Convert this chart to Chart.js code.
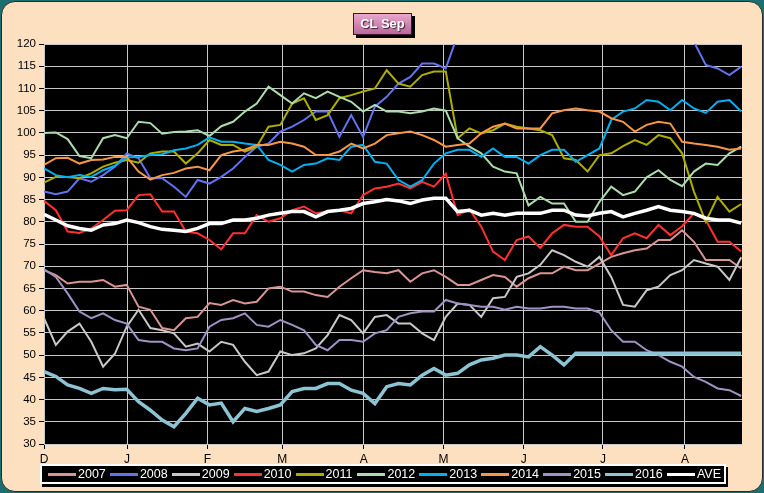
<!DOCTYPE html>
<html lang="en">
<head>
<meta charset="UTF-8">
<title>CL Sep</title>
<script src="https://cdn.jsdelivr.net/npm/chart.js"></script>
<style>
  body { margin: 0; background: #1d6f6f; }
  #wrap { position: relative; width: 764px; height: 493px; }
  #panel { position: absolute; left: 1px; top: 1px; width: 760px; height: 489px;
           background: #fde0c0; border: 1px solid #2a2a2a; border-radius: 14px; }
  #chart { position: absolute; left: 0; top: 0; }
  #title { position: absolute; left: 353px; top: 13px; width: 57px; height: 20px;
           background: linear-gradient(180deg, #e8a8cc 0%, #d088b4 50%, #b86a9a 100%);
           border: 1px solid #3a1a2a; box-shadow: 3px 3px 0 #000;
           color: #fff; font: bold 13px "Liberation Sans", Arial, sans-serif;
           text-align: center; line-height: 20px; text-shadow: 1px 1px 1px #402030; }
  #legend { position: absolute; left: 40px; top: 464px; width: 686px; height: 20px;
            background: #000; border: 2px solid #fff; box-shadow: 2px 3px 0 #000;
            display: flex; align-items: center; padding-left: 6px; box-sizing: border-box; }
  .item { width: 61.9px; flex: none; display: flex; align-items: center;
          color: #fff; font: 12.5px "Liberation Sans", Arial, sans-serif; }
  .bar { width: 28px; height: 3px; margin-right: 2px; }
</style>
</head>
<body>
<div id="wrap">
  <div id="panel"></div>
  <canvas id="chart" width="764" height="493"></canvas>
  <div id="title">CL Sep</div>
  <div id="legend"></div>
</div>
<script>
// trading-day index, one point every 3 days from 1 Dec
const xStep = 3;
const monthTicks = [0, 21.1, 41.5, 60.5, 81.2, 101.4, 121.8, 141.9, 162.7];
const monthLabels = ['D', 'J', 'F', 'M', 'A', 'M', 'J', 'J', 'A'];

const years = ['2007', '2008', '2009', '2010', '2011', '2012', '2013', '2014', '2015', '2016', 'AVE'];
const colors = ['#d99494', '#6272f0', '#c8c8c8', '#ff3030', '#adad00', '#acdcac', '#00b0f0', '#f79646', '#a092c2', '#8cc4d4', '#ffffff'];
const widths = [2, 2, 2, 2, 2, 2, 2, 2, 2, 3.5, 3.5];

const y2007 = [69.1, 68, 66.1, 66.5, 66.5, 66.9, 65.4, 65.8, 60.9, 60.2, 56.1, 55.6, 58.3, 58.6, 61.7, 61.3,
  62.4, 61.6, 62, 65, 65.4, 64.3, 64.3, 63.5, 63.1, 65.4, 67.3, 69.1, 68.7, 68.4, 69.1,
  66.5, 68.4, 69.1, 67.6, 65.8, 65.8, 66.9, 68, 67.6, 65.4, 67.3, 68.4, 68.4, 69.9, 69.1,
  69.1, 70.6, 72.1, 72.9, 73.6, 74, 75.9, 75.9, 78.1, 75.5, 71.4, 71.4, 71.4, 69.5];
const y2008 = [86.8, 86.2, 86.8, 89.8, 89, 90.5, 92.4, 95.4, 94.3, 89.8, 89.8, 87.9, 85.6, 89.4, 88.6, 90.1,
  92, 94.6, 96.9, 97.6, 100.3, 101.4, 102.9, 104.8, 104.8, 99.1, 104, 99.1, 105.9, 108.1, 111.1,
  112.6, 115.6, 115.6, 114.5, 122, 125, 128, 127, 130, 133, 135, 134, 138, 140, 142,
  144, 140, 138, 133, 128, 127, 124, 126, 123, 120.5, 115.3, 114.5, 113, 114.9];
const y2009 = [58.3, 52.3, 55.3, 57.1, 53, 47.4, 50.3, 56.4, 60.2, 56.1, 55.6, 54.9, 51.9, 52.6, 50.8, 53,
  52.3, 48.5, 45.5, 46.3, 50.8, 50, 50.4, 51.5, 54.5, 59, 57.9, 54.9, 58.6, 59, 57.1,
  57.1, 54.9, 53.4, 58.6, 61.6, 61.3, 58.6, 62.8, 63.1, 67.6, 68.4, 70.3, 73.6, 72.5, 71,
  69.9, 72.1, 67.6, 61.3, 60.9, 64.6, 65.4, 68, 69.1, 71.4, 70.6, 69.9, 66.9, 72];
const y2010 = [84.7, 82.6, 77.8, 77.5, 78.5, 80.4, 82.5, 82.6, 86, 86.2, 82.3, 82.3, 77.8, 77.4, 75.9, 73.8,
  77.4, 77.4, 81.5, 80, 80.8, 82.6, 83.4, 81.9, 82.3, 82.6, 81.9, 86, 87.5, 87.9, 88.6,
  87.5, 89, 87.9, 90.8, 81.5, 82.8, 78.9, 73.3, 71.4, 75.9, 76.7, 74.1, 77.4, 79.3, 78.9,
  78.9, 76.7, 72.5, 76.3, 77.4, 76.3, 79.3, 77, 79, 81.9, 80.4, 75.5, 75.5, 73.3];
const y2011 = [88.8, 90.1, 90.1, 89.8, 90.9, 92.4, 93.3, 93.9, 93.3, 95.4, 95.8, 95.8, 93.1, 95.4, 98.4, 97.3,
  97.3, 95.8, 96.9, 101.4, 101.8, 106.6, 107.8, 102.9, 104, 107.8, 108.5, 109.3, 110, 114.1, 111.1,
  110.4, 113, 113.8, 113.8, 98.8, 101, 99.9, 100.6, 102.1, 101.4, 101, 100.6, 99.5, 94.3, 93.9,
  91.3, 95, 95.4, 97, 98.4, 97.3, 99.5, 98.8, 95.4, 86.8, 80, 85.6, 82.3, 84];
const y2012 = [100, 100.1, 98.6, 94.8, 94.3, 98.8, 99.5, 98.8, 102.5, 102.2, 99.8, 100.2, 100.3, 100.6, 99.3, 101.5,
  102.5, 104.8, 106.6, 110.4, 108.5, 106.6, 108.9, 107.8, 109.3, 108.1, 107, 104.8, 106.3, 104.8, 104.8,
  104.4, 104.8, 105.5, 105, 98.8, 96.9, 95.4, 92.4, 91.3, 90.9, 83.7, 85.6, 84.1, 84.1, 80,
  80, 84.5, 87.9, 86, 86.8, 90, 91.6, 89.4, 88, 91.3, 93.1, 92.8, 95.4, 96.9];
const y2013 = [92, 90.5, 90, 90.5, 90.1, 91.6, 92.6, 94.5, 94.6, 95, 95.2, 96.1, 96.5, 97.3, 99, 98,
  98, 97.6, 97.3, 93.9, 92.8, 91.3, 92.8, 93.1, 94.3, 93.9, 96.9, 97.3, 93.5, 93.1, 89.4,
  87.9, 89.4, 93.1, 95.4, 96.2, 96.2, 94.6, 96.5, 94.6, 94.6, 93.1, 95, 96.2, 96.2, 93.5,
  95, 96.5, 102.9, 104.8, 105.5, 107.4, 107, 105.1, 107.4, 105.5, 104.5, 107, 107.4, 104.8];
const y2014 = [92.8, 94.3, 94.4, 93.1, 93.9, 94, 94.6, 94.6, 91.3, 89.5, 90.5, 91, 92, 92.4, 91.6, 95,
  95.8, 96.2, 97.3, 97.3, 98, 97.6, 96.9, 95, 95, 95.8, 97.6, 96.5, 97.6, 99.5, 99.9,
  100.3, 99.5, 98.4, 96.9, 97.3, 97.6, 99.9, 101.4, 102.1, 101, 101, 101, 104.4, 105.1, 105.5,
  105.1, 104.8, 103.3, 102.5, 100.3, 101.8, 102.5, 102.1, 98, 97.6, 97.3, 96.9, 96.2, 96.5];
const y2015 = [69.3, 67.6, 63.9, 59.8, 58.3, 59.4, 57.9, 57.1, 53.4, 53, 53, 51.5, 51.1, 51.5, 56.4, 57.9,
  58.3, 59.4, 56.8, 56.4, 57.9, 56.8, 55.6, 52.3, 51.1, 53.4, 53.4, 53, 54.9, 55.6, 58.6,
  59.4, 59.8, 59.8, 62.4, 61.6, 61.3, 60.9, 60.9, 60.2, 60.9, 60.5, 60.5, 60.9, 60.9, 60.5,
  60.5, 59.6, 55.6, 53, 53, 51.1, 50, 48.5, 47.4, 45.1, 44, 42.5, 42.1, 40.8];
const y2016 = [46.3, 45.2, 43.3, 42.5, 41.4, 42.5, 42.2, 42.3, 39.5, 37.6, 35.4, 33.9, 36.9, 40.3, 38.8, 39.2,
  35, 38, 37.3, 38, 38.8, 41.8, 42.5, 42.5, 43.6, 43.6, 42.1, 41.4, 39.1, 42.9, 43.6,
  43.3, 45.5, 47, 45.5, 45.9, 47.8, 48.9, 49.3, 50, 50, 49.6, 51.9, 50, 47.8, 50.4,
  50.4, 50.4, 50.4, 50.4, 50.4, 50.4, 50.4, 50.4, 50.4, 50.4, 50.4, 50.4, 50.4, 50.4];
const yAve = [81.7, 80.4, 79.1, 78.5, 78.1, 79.3, 79.6, 80.4, 79.8, 78.9, 78.3, 78.1, 77.8, 78.5, 79.6, 79.6,
  80.4, 80.4, 80.8, 81.5, 81.9, 82.3, 82.3, 81.1, 82.3, 82.6, 83, 84.1, 84.5, 85, 84.7,
  84.1, 84.9, 85.3, 85.3, 82.3, 82.6, 81.5, 81.9, 81.5, 81.9, 81.9, 81.9, 82.6, 82.6, 81.5,
  81.3, 81.9, 82.3, 81.1, 81.9, 82.6, 83.4, 82.6, 82.3, 81.9, 80.8, 80.4, 80.4, 79.7];

const series = [y2007, y2008, y2009, y2010, y2011, y2012, y2013, y2014, y2015, y2016, yAve];

// black plot background
const plotBg = {
  id: 'plotBg',
  beforeDraw(chart) {
    const a = chart.chartArea, c = chart.ctx;
    c.save();
    c.fillStyle = '#000';
    c.fillRect(a.left, a.top, a.right - a.left, a.bottom - a.top);
    c.restore();
  }
};

const datasets = series.map((vals, k) => ({
  label: years[k],
  data: vals.map((v, i) => ({ x: i * xStep, y: v })),
  borderColor: colors[k],
  backgroundColor: colors[k],
  borderWidth: widths[k],
  pointRadius: 0,
  tension: 0,
  order: series.length - k
}));

new Chart(document.getElementById('chart'), {
  type: 'line',
  data: { datasets },
  options: {
    responsive: false,
    animation: false,
    events: [],
    layout: { padding: { left: 0, top: 44, right: 22, bottom: 29 } },
    plugins: { legend: { display: false }, tooltip: { enabled: false } },
    scales: {
      x: {
        type: 'linear', min: 0, max: 177.2,
        afterBuildTicks: s => { s.ticks = monthTicks.map(v => ({ value: v })); },
        afterFit: s => { s.height = 20; },
        ticks: {
          autoSkip: false, maxRotation: 0, padding: 3, color: '#000',
          font: { family: 'Liberation Sans', size: 12 },
          callback: v => monthLabels[monthTicks.indexOf(v)]
        },
        grid: { color: '#c8c8c8', lineWidth: 1, tickLength: 5, tickColor: '#000' },
        border: { display: false }
      },
      y: {
        min: 30, max: 120,
        afterFit: s => { s.width = 44; },
        ticks: { stepSize: 5, padding: 3, color: '#000', font: { family: 'Liberation Sans', size: 11.5 } },
        grid: { color: '#c8c8c8', lineWidth: 1, tickLength: 5, tickColor: '#000' },
        border: { display: false }
      }
    }
  },
  plugins: [plotBg]
});

// legend
const legend = document.getElementById('legend');
years.forEach((name, k) => {
  const item = document.createElement('div');
  item.className = 'item';
  item.innerHTML = `<span class="bar" style="background:${colors[k]}"></span><span>${name}</span>`;
  legend.appendChild(item);
});
</script>
</body>
</html>
